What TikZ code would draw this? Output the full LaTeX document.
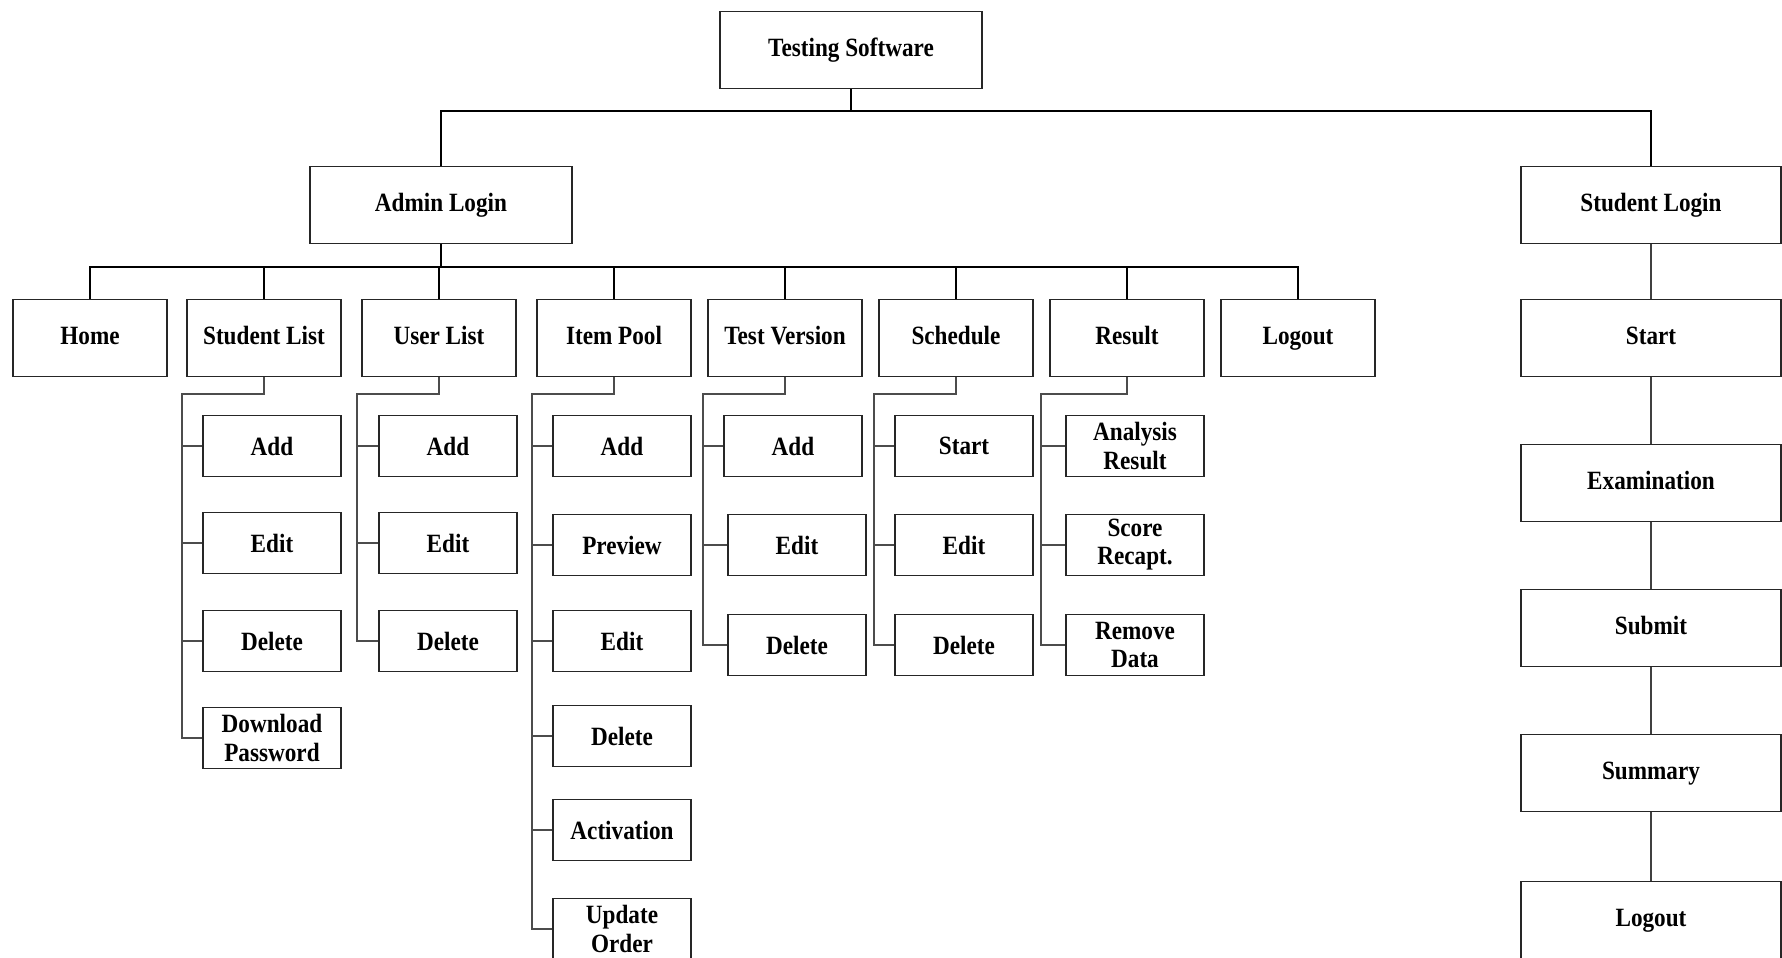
\documentclass[tikz,border=0pt]{standalone}
\usepackage{fontspec}
\setmainfont[FakeStretch=0.88]{Liberation Serif}

\tikzset{
	box/.style={draw=black!85, line width=1.1pt, fill=white, align=center, inner sep=1pt, font=\fontsize{15}{16}\selectfont\bfseries},
	topbox/.style={box, minimum width=5.24cm, minimum height=1.54cm, text height=2.1ex, text depth=0.6ex},
	menubox/.style={box, minimum width=3.08cm, minimum height=1.54cm, text height=2.1ex, text depth=0.6ex},
	subbox/.style={box, minimum width=2.76cm, minimum height=1.22cm},
	main/.style={line width=1.5pt, black},
	branch/.style={line width=1.1pt, black!70},
	chain/.style={line width=0.9pt, black!75}
}

\begin{document}
\begin{tikzpicture}[x=0.02cm, y=-0.02cm]

	\useasboundingbox (0,0) rectangle (1782,957);

	%root and logins
	\node[topbox] (soft) at (851,50) {Testing Software};
	\node[topbox] (admin) at (441,205) {Admin Login};
	\node[topbox, minimum width=5.2cm] (student) at (1651,205) {Student Login};

	%admin menu
	\node[menubox] (home) at (90,338) {Home};
	\node[menubox] (stl) at (264,338) {Student List};
	\node[menubox] (usl) at (439,338) {User List};
	\node[menubox] (pool) at (614,338) {Item Pool};
	\node[menubox] (tver) at (785,338) {Test Version};
	\node[menubox] (sched) at (956,338) {Schedule};
	\node[menubox] (res) at (1127,338) {Result};
	\node[menubox] (alogout) at (1298,338) {Logout};

	%student list
	\node[subbox] (stl-add) at (272,446) {Add};
	\node[subbox] (stl-edit) at (272,543) {Edit};
	\node[subbox] (stl-del) at (272,641) {Delete};
	\node[subbox] (stl-pass) at (272,738) {Download\\Password};

	%user list
	\node[subbox] (usl-add) at (448,446) {Add};
	\node[subbox] (usl-edit) at (448,543) {Edit};
	\node[subbox] (usl-del) at (448,641) {Delete};

	%item pool
	\node[subbox] (pool-add) at (622,446) {Add};
	\node[subbox] (pool-prev) at (622,545) {Preview};
	\node[subbox] (pool-edit) at (622,641) {Edit};
	\node[subbox] (pool-del) at (622,736) {Delete};
	\node[subbox] (pool-act) at (622,830) {Activation};
	\node[subbox] (pool-order) at (622,929) {Update\\Order};

	%test version
	\node[subbox] (tver-add) at (793,446) {Add};
	\node[subbox] (tver-edit) at (797,545) {Edit};
	\node[subbox] (tver-del) at (797,645) {Delete};

	%schedule
	\node[subbox] (sched-start) at (964,446) {Start};
	\node[subbox] (sched-edit) at (964,545) {Edit};
	\node[subbox] (sched-del) at (964,645) {Delete};

	%result
	\node[subbox] (res-ana) at (1135,446) {Analysis\\Result};
	\node[subbox] (res-score) at (1135,545) {Score\\Recapt.};
	\node[subbox] (res-rem) at (1135,645) {Remove\\Data};

	%student side
	\node[topbox, minimum width=5.2cm] (s-start) at (1651,338) {Start};
	\node[topbox, minimum width=5.2cm] (s-exam) at (1651,483) {Examination};
	\node[topbox, minimum width=5.2cm] (s-submit) at (1651,628) {Submit};
	\node[topbox, minimum width=5.2cm] (s-summ) at (1651,773) {Summary};
	\node[topbox, minimum width=5.2cm] (s-logout) at (1651,920) {Logout};

	%bus points
	\coordinate (top-bus) at (851,111);
	\coordinate (admin-bus) at (441,267);
	\coordinate (stl-spine) at (182,394);
	\coordinate (usl-spine) at (357,394);
	\coordinate (pool-spine) at (532,394);
	\coordinate (tver-spine) at (703,394);
	\coordinate (sched-spine) at (874,394);
	\coordinate (res-spine) at (1041,394);

	%top level
	\draw[main] (soft) -- (top-bus) -| (admin);
	\draw[main] (top-bus) -| (student);

	%admin menu bus
	\draw[main] (admin) -- (admin-bus);
	\draw[main] (home) |- (admin-bus) -| (alogout);
	\draw[main] (stl) -- (stl.north |- admin-bus);
	\draw[main] (usl) -- (usl.north |- admin-bus);
	\draw[main] (pool) -- (pool.north |- admin-bus);
	\draw[main] (tver) -- (tver.north |- admin-bus);
	\draw[main] (sched) -- (sched.north |- admin-bus);
	\draw[main] (res) -- (res.north |- admin-bus);

	%sub menus
	\draw[branch] (stl) |- (stl-spine) |- (stl-add) (stl-spine) |- (stl-edit)
		(stl-spine) |- (stl-del) (stl-spine) |- (stl-pass);
	\draw[branch] (usl) |- (usl-spine) |- (usl-add) (usl-spine) |- (usl-edit)
		(usl-spine) |- (usl-del);
	\draw[branch] (pool) |- (pool-spine) |- (pool-add) (pool-spine) |- (pool-prev)
		(pool-spine) |- (pool-edit) (pool-spine) |- (pool-del)
		(pool-spine) |- (pool-act) (pool-spine) |- (pool-order);
	\draw[branch] (tver) |- (tver-spine) |- (tver-add) (tver-spine) |- (tver-edit)
		(tver-spine) |- (tver-del);
	\draw[branch] (sched) |- (sched-spine) |- (sched-start) (sched-spine) |- (sched-edit)
		(sched-spine) |- (sched-del);
	\draw[branch] (res) |- (res-spine) |- (res-ana) (res-spine) |- (res-score)
		(res-spine) |- (res-rem);

	%student flow
	\draw[chain] (student) -- (s-start) (s-start) -- (s-exam) (s-exam) -- (s-submit)
		(s-submit) -- (s-summ) (s-summ) -- (s-logout);

\end{tikzpicture}
\end{document}
